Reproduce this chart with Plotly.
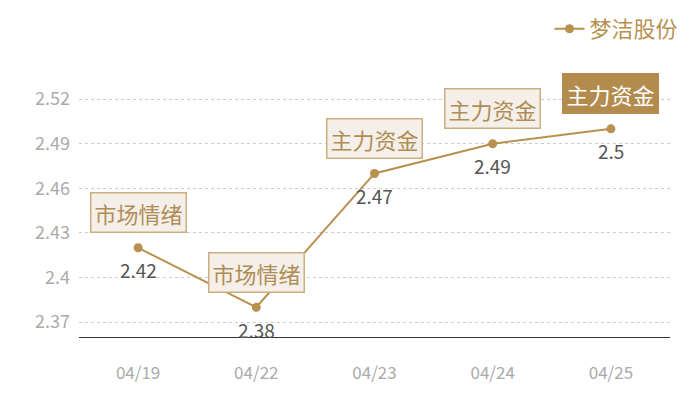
import plotly.graph_objects as go

dates = ['04/19', '04/22', '04/23', '04/24', '04/25']
prices = [2.42, 2.38, 2.47, 2.49, 2.5]
tags = ['市场情绪', '市场情绪', '主力资金', '主力资金', '主力资金']
highlight = [False, False, False, False, True]

gold = '#B8914F'
font_name = 'Noto Sans CJK SC'

trace = go.Scatter(
    x=dates, y=prices, mode='lines+markers', name='梦洁股份',
    line=dict(color=gold, width=2),
    marker=dict(color=gold, size=9),
)

fig = go.Figure(data=[trace])

for d, p, t, h in zip(dates, prices, tags, highlight):
    # tag box above the point
    fig.add_annotation(
        x=d, y=p, text=t, showarrow=False, yshift=35,
        font=dict(size=22, color='#FFFFFF' if h else '#B08D57', family=font_name),
        bgcolor='#B38B4D' if h else '#F4EFE8',
        bordercolor='#B38B4D' if h else '#CDAE7E', borderwidth=1.5, borderpad=3,
    )
    # value label below the point
    fig.add_annotation(
        x=d, y=p, text=str(p), showarrow=False, yshift=-22,
        font=dict(size=19, color='#555555', family=font_name),
    )

# page body adds 8px offset, margins compensate
fig.update_layout(
    width=700, height=400,
    margin=dict(l=71, r=38, t=48, b=71),
    plot_bgcolor='white', paper_bgcolor='white',
    font=dict(family=font_name),
    showlegend=True,
    legend=dict(xref='container', yref='container', x=0.965, y=1.0,
                xanchor='right', yanchor='top', orientation='h',
                font=dict(size=22, color=gold), itemwidth=30,
                borderwidth=0, bgcolor='rgba(0,0,0,0)'),
    xaxis=dict(type='category', range=[-0.5, 4.5], showgrid=False, showline=True,
               linecolor='#333333', linewidth=1, ticks='', automargin=False,
               ticklabelstandoff=21, tickfont=dict(size=17, color='#AAAAAA')),
    yaxis=dict(range=[2.36, 2.549], tick0=2.37, dtick=0.03, showgrid=True,
               gridcolor='#CCCCCC', griddash='dot', zeroline=False, automargin=False,
               tickfont=dict(size=18, color='#AAAAAA'), ticklabelstandoff=8),
)

fig.write_html('out.html')
